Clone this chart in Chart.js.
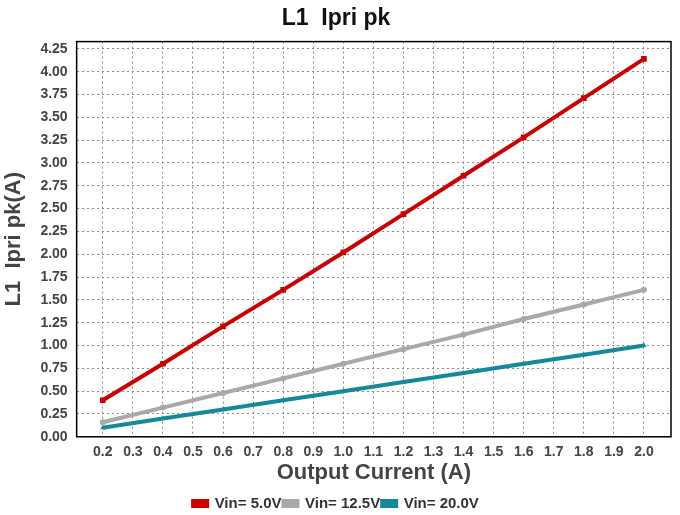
<!DOCTYPE html>
<html>
<head>
<meta charset="utf-8">
<script src="https://cdn.jsdelivr.net/npm/chart.js@4.4.1/dist/chart.umd.min.js"></script>
<style>
  html, body { margin: 0; padding: 0; background: #fff; }
  #wrap { width: 680px; height: 515px; }
</style>
</head>
<body>
<div id="wrap"><canvas id="chart"></canvas></div>
<script>
// data
const current = [0.2, 0.4, 0.6, 0.8, 1.0, 1.2, 1.4, 1.6, 1.8, 2.0];
const vin5 = [0.40, 0.80, 1.21, 1.61, 2.02, 2.44, 2.86, 3.28, 3.71, 4.14];
const vin12 = [0.16, 0.32, 0.48, 0.64, 0.80, 0.96, 1.12, 1.29, 1.45, 1.61];
const vin20 = [0.10, 0.20, 0.30, 0.40, 0.50, 0.60, 0.70, 0.80, 0.90, 1.00];
const xTicks = [0.2, 0.3, 0.4, 0.5, 0.6, 0.7, 0.8, 0.9, 1.0, 1.1, 1.2, 1.3, 1.4, 1.5, 1.6, 1.7, 1.8, 1.9, 2.0];
const yTicks = [0, 0.25, 0.5, 0.75, 1.0, 1.25, 1.5, 1.75, 2.0, 2.25, 2.5, 2.75, 3.0, 3.25, 3.5, 3.75, 4.0, 4.25];

const FONT = 'Liberation Sans, Arial, sans-serif';

function pts(ys) {
    return current.map((x, i) => ({ x: x, y: ys[i] }));
}

function series(label, ys, color, pointStyle, r) {
    return {
        label: label,
        data: pts(ys),
        borderColor: color,
        backgroundColor: color,
        borderWidth: 4,
        pointStyle: pointStyle,
        pointRadius: r,
        pointBorderWidth: 0,
        tension: 0
    };
}

// frame around the plot area
const frame = {
    id: 'frame',
    afterDraw(chart) {
        const a = chart.chartArea, ctx = chart.ctx;
        ctx.save();
        ctx.strokeStyle = '#000';
        ctx.lineWidth = 1.5;
        ctx.strokeRect(a.left, a.top, a.right - a.left, a.bottom - a.top);
        ctx.restore();
    }
};

new Chart(document.getElementById('chart'), {
    type: 'line',
    data: {
        datasets: [
            series('Vin= 5.0V', vin5, '#cc0000', 'rect', 4),
            series('Vin= 12.5V', vin12, '#a9a9a9', 'circle', 3),
            series('Vin= 20.0V', vin20, '#13899a', 'triangle', 3)
        ]
    },
    options: {
        responsive: true,
        maintainAspectRatio: false,
        animation: false,
        layout: { padding: { left: 1, right: 9, top: 0, bottom: -6 } },
        plugins: {
            title: {
                display: true,
                text: 'L1  Ipri pk',
                color: '#111',
                font: { family: FONT, size: 23, weight: 'bold' },
                padding: { top: 5, bottom: 9 }
            },
            legend: {
                position: 'bottom',
                labels: {
                    color: '#333',
                    font: { family: FONT, size: 15, weight: 'bold' },
                    boxWidth: 14,
                    boxHeight: 5,
                    padding: 2
                }
            },
            tooltip: { enabled: false }
        },
        scales: {
            x: {
                type: 'linear',
                min: 0.113,
                max: 2.09,
                afterBuildTicks: axis => { axis.ticks = xTicks.map(v => ({ value: v })); },
                ticks: {
                    color: '#444',
                    font: { family: FONT, size: 14, weight: 'bold' },
                    padding: 7,
                    maxRotation: 0,
                    autoSkip: false,
                    callback: v => v.toFixed(1)
                },
                grid: { color: '#8a8a8a', drawTicks: false, lineWidth: 1 },
                border: { display: false, dash: [2, 3] },
                title: {
                    display: true,
                    text: 'Output Current (A)',
                    color: '#444',
                    font: { family: FONT, size: 22, weight: 'bold' },
                    padding: { top: -8, bottom: 8 }
                }
            },
            y: {
                min: 0,
                max: 4.33,
                afterBuildTicks: axis => { axis.ticks = yTicks.map(v => ({ value: v })); },
                ticks: {
                    color: '#444',
                    font: { family: FONT, size: 14, weight: 'bold' },
                    padding: 9,
                    autoSkip: false,
                    callback: v => v.toFixed(2)
                },
                grid: { color: '#8a8a8a', drawTicks: false, lineWidth: 1 },
                border: { display: false, dash: [2, 3] },
                title: {
                    display: true,
                    text: 'L1  Ipri pk(A)',
                    color: '#444',
                    font: { family: FONT, size: 22, weight: 'bold' },
                    padding: { top: 0, bottom: 4 }
                }
            }
        }
    },
    plugins: [frame]
});
</script>
</body>
</html>
